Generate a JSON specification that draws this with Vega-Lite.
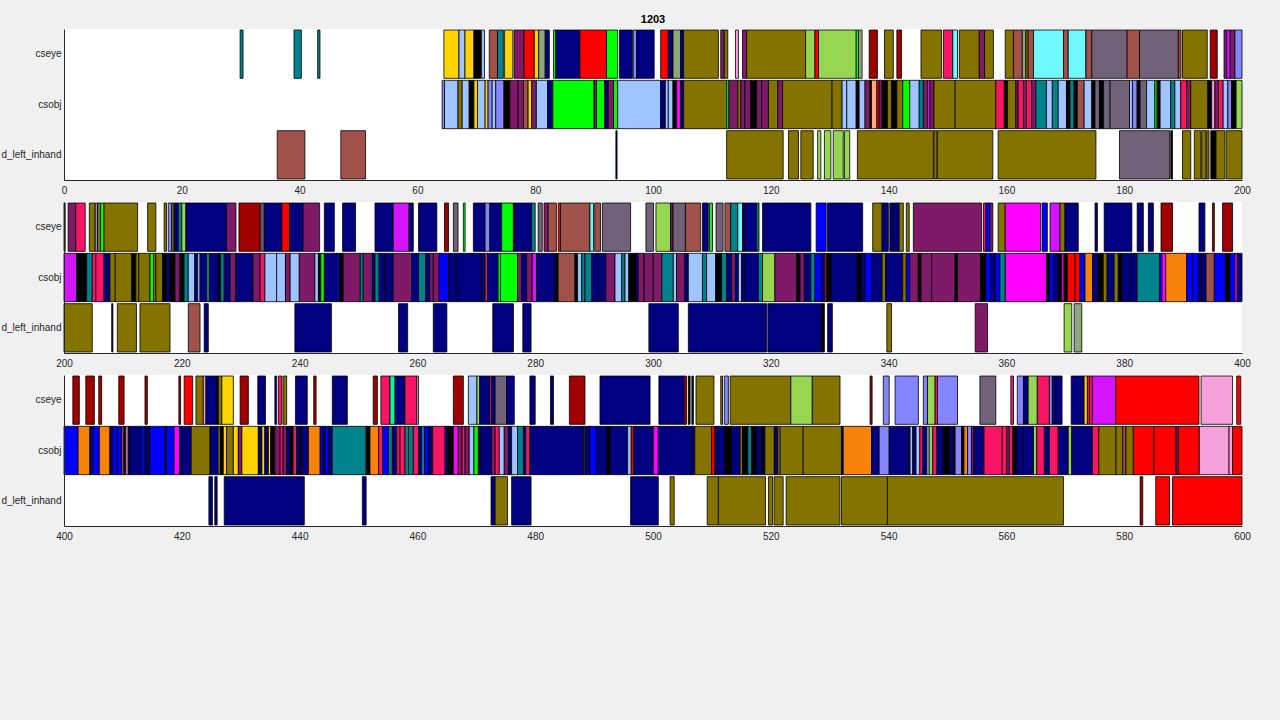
{
"$schema":"https://vega.github.io/schema/vega-lite/v6.json",
"background":"#f0f0f0",
"padding":{"left":0,"top":14,"right":35,"bottom":180},
"datasets":{"segs":[
{"r":"cseye","s":29.9,"e":30.4,"o":1},{"r":"cseye","s":39.05,"e":40.3,"o":1},{"r":"cseye","s":43.07,"e":43.46,"o":1},{"r":"cseye","s":64.5,"e":67.06,"o":2},{"r":"cseye","s":67.06,"e":68.08,"o":3},{"r":"cseye","s":68.08,"e":69.6,"o":2},{"r":"cseye","s":69.6,"e":70.8,"o":22},{"r":"cseye","s":70.9,"e":71.4,"o":3},{"r":"cseye","s":72.2,"e":73.6,"o":4},{"r":"cseye","s":73.6,"e":74.6,"o":1},{"r":"cseye","s":74.8,"e":76.2,"o":2},{"r":"cseye","s":76.4,"e":78.1,"o":9},{"r":"cseye","s":78.1,"e":79.85,"o":7},{"r":"cseye","s":79.85,"e":80.6,"o":2},{"r":"cseye","s":80.6,"e":81.7,"o":10},{"r":"cseye","s":81.7,"e":82.4,"o":6},{"r":"cseye","s":83.1,"e":83.5,"o":8},{"r":"cseye","s":83.5,"e":87.6,"o":6},{"r":"cseye","s":87.6,"e":92.1,"o":7},{"r":"cseye","s":92.1,"e":94.0,"o":8},{"r":"cseye","s":94.3,"e":96.5,"o":6},{"r":"cseye","s":96.65,"e":97.2,"o":18},{"r":"cseye","s":97.2,"e":100.2,"o":6},{"r":"cseye","s":101.3,"e":102.6,"o":7},{"r":"cseye","s":102.6,"e":103.4,"o":6},{"r":"cseye","s":103.4,"e":104.7,"o":10},{"r":"cseye","s":104.7,"e":105.2,"o":6},{"r":"cseye","s":105.2,"e":111.1,"o":5},{"r":"cseye","s":111.5,"e":112.1,"o":9},{"r":"cseye","s":112.1,"e":112.7,"o":5},{"r":"cseye","s":114.0,"e":114.5,"o":21},{"r":"cseye","s":115.2,"e":115.9,"o":9},{"r":"cseye","s":115.9,"e":125.9,"o":5},{"r":"cseye","s":125.9,"e":127.5,"o":15},{"r":"cseye","s":127.5,"e":128.1,"o":7},{"r":"cseye","s":128.1,"e":134.5,"o":15},{"r":"cseye","s":134.5,"e":134.9,"o":8},{"r":"cseye","s":134.9,"e":135.5,"o":10},{"r":"cseye","s":136.7,"e":138.1,"o":11},{"r":"cseye","s":139.3,"e":140.8,"o":5},{"r":"cseye","s":141.4,"e":142.2,"o":11},{"r":"cseye","s":145.5,"e":149.0,"o":5},{"r":"cseye","s":149.3,"e":150.9,"o":12},{"r":"cseye","s":150.9,"e":151.7,"o":13},{"r":"cseye","s":152.0,"e":155.4,"o":5},{"r":"cseye","s":155.4,"e":156.3,"o":9},{"r":"cseye","s":156.3,"e":157.8,"o":5},{"r":"cseye","s":159.8,"e":161.2,"o":5},{"r":"cseye","s":161.2,"e":162.7,"o":4},{"r":"cseye","s":162.7,"e":163.3,"o":10},{"r":"cseye","s":163.3,"e":163.7,"o":5},{"r":"cseye","s":163.7,"e":164.6,"o":4},{"r":"cseye","s":164.6,"e":169.7,"o":13},{"r":"cseye","s":169.7,"e":170.5,"o":4},{"r":"cseye","s":170.5,"e":173.5,"o":13},{"r":"cseye","s":173.5,"e":174.5,"o":4},{"r":"cseye","s":174.5,"e":180.5,"o":14},{"r":"cseye","s":180.5,"e":182.6,"o":4},{"r":"cseye","s":182.6,"e":189.2,"o":14},{"r":"cseye","s":189.2,"e":189.65,"o":4},{"r":"cseye","s":189.9,"e":194.1,"o":5},{"r":"cseye","s":194.6,"e":195.8,"o":11},{"r":"cseye","s":196.95,"e":197.4,"o":9},{"r":"cseye","s":197.4,"e":198.0,"o":17},{"r":"cseye","s":198.0,"e":198.8,"o":9},{"r":"cseye","s":198.8,"e":200,"o":18},
{"r":"csobj","s":64.2,"e":64.6,"o":18},{"r":"csobj","s":64.6,"e":66.9,"o":3},{"r":"csobj","s":66.9,"e":67.6,"o":5},{"r":"csobj","s":67.6,"e":68.8,"o":3},{"r":"csobj","s":68.8,"e":69.6,"o":22},{"r":"csobj","s":69.6,"e":70.2,"o":2},{"r":"csobj","s":70.2,"e":71.5,"o":3},{"r":"csobj","s":71.5,"e":72.0,"o":2},{"r":"csobj","s":72.0,"e":72.7,"o":18},{"r":"csobj","s":72.7,"e":73.3,"o":3},{"r":"csobj","s":73.3,"e":74.7,"o":18},{"r":"csobj","s":74.7,"e":75.7,"o":22},{"r":"csobj","s":75.7,"e":77.1,"o":9},{"r":"csobj","s":77.1,"e":78.0,"o":9},{"r":"csobj","s":78.0,"e":78.8,"o":4},{"r":"csobj","s":78.8,"e":79.4,"o":2},{"r":"csobj","s":79.4,"e":80.2,"o":9},{"r":"csobj","s":80.2,"e":82.1,"o":3},{"r":"csobj","s":82.1,"e":83.0,"o":6},{"r":"csobj","s":83.0,"e":90.0,"o":8},{"r":"csobj","s":90.0,"e":90.4,"o":9},{"r":"csobj","s":90.4,"e":91.8,"o":8},{"r":"csobj","s":91.8,"e":92.4,"o":6},{"r":"csobj","s":92.4,"e":93.3,"o":9},{"r":"csobj","s":93.3,"e":94.0,"o":8},{"r":"csobj","s":94.0,"e":101.3,"o":3},{"r":"csobj","s":101.3,"e":102.1,"o":6},{"r":"csobj","s":102.1,"e":102.6,"o":3},{"r":"csobj","s":102.6,"e":103.4,"o":3},{"r":"csobj","s":103.4,"e":104.0,"o":22},{"r":"csobj","s":104.0,"e":104.7,"o":16},{"r":"csobj","s":104.7,"e":105.2,"o":6},{"r":"csobj","s":105.2,"e":112.5,"o":5},{"r":"csobj","s":112.5,"e":112.9,"o":8},{"r":"csobj","s":112.9,"e":114.4,"o":9},{"r":"csobj","s":114.4,"e":114.9,"o":5},{"r":"csobj","s":114.9,"e":115.6,"o":9},{"r":"csobj","s":115.6,"e":116.6,"o":9},{"r":"csobj","s":116.6,"e":117.6,"o":22},{"r":"csobj","s":117.6,"e":118.45,"o":9},{"r":"csobj","s":118.45,"e":119.6,"o":9},{"r":"csobj","s":119.6,"e":121.2,"o":5},{"r":"csobj","s":121.2,"e":122.0,"o":9},{"r":"csobj","s":122.0,"e":130.4,"o":5},{"r":"csobj","s":130.4,"e":132.1,"o":5},{"r":"csobj","s":132.1,"e":132.9,"o":3},{"r":"csobj","s":132.9,"e":134.5,"o":3},{"r":"csobj","s":134.5,"e":135.0,"o":22},{"r":"csobj","s":135.0,"e":136.0,"o":3},{"r":"csobj","s":136.0,"e":136.85,"o":9},{"r":"csobj","s":136.85,"e":137.1,"o":22},{"r":"csobj","s":137.1,"e":138.0,"o":23},{"r":"csobj","s":138.0,"e":138.4,"o":7},{"r":"csobj","s":138.4,"e":138.9,"o":9},{"r":"csobj","s":138.9,"e":139.8,"o":22},{"r":"csobj","s":139.8,"e":140.5,"o":5},{"r":"csobj","s":140.5,"e":141.4,"o":22},{"r":"csobj","s":141.4,"e":142.4,"o":5},{"r":"csobj","s":142.4,"e":143.6,"o":8},{"r":"csobj","s":143.6,"e":145.2,"o":3},{"r":"csobj","s":145.2,"e":145.9,"o":1},{"r":"csobj","s":145.9,"e":146.6,"o":9},{"r":"csobj","s":146.6,"e":147.0,"o":17},{"r":"csobj","s":147.0,"e":147.7,"o":9},{"r":"csobj","s":147.7,"e":151.3,"o":5},{"r":"csobj","s":151.3,"e":158.2,"o":5},{"r":"csobj","s":158.2,"e":159.65,"o":12},{"r":"csobj","s":159.65,"e":160.2,"o":22},{"r":"csobj","s":160.2,"e":161.6,"o":5},{"r":"csobj","s":161.6,"e":162.0,"o":9},{"r":"csobj","s":162.0,"e":162.9,"o":12},{"r":"csobj","s":162.9,"e":163.4,"o":9},{"r":"csobj","s":163.4,"e":164.3,"o":12},{"r":"csobj","s":164.3,"e":165.0,"o":9},{"r":"csobj","s":165.0,"e":166.8,"o":1},{"r":"csobj","s":166.8,"e":167.8,"o":3},{"r":"csobj","s":167.8,"e":168.8,"o":1},{"r":"csobj","s":168.8,"e":170.2,"o":3},{"r":"csobj","s":170.2,"e":170.8,"o":22},{"r":"csobj","s":170.8,"e":171.5,"o":1},{"r":"csobj","s":171.5,"e":172.05,"o":22},{"r":"csobj","s":172.05,"e":173.2,"o":4},{"r":"csobj","s":173.2,"e":174.5,"o":3},{"r":"csobj","s":174.5,"e":175.05,"o":22},{"r":"csobj","s":175.05,"e":175.8,"o":14},{"r":"csobj","s":175.8,"e":176.5,"o":22},{"r":"csobj","s":176.5,"e":177.6,"o":14},{"r":"csobj","s":177.6,"e":180.9,"o":14},{"r":"csobj","s":180.9,"e":181.4,"o":3},{"r":"csobj","s":181.4,"e":182.2,"o":18},{"r":"csobj","s":182.2,"e":182.7,"o":22},{"r":"csobj","s":182.7,"e":183.8,"o":14},{"r":"csobj","s":183.8,"e":185.2,"o":3},{"r":"csobj","s":185.2,"e":185.6,"o":8},{"r":"csobj","s":185.6,"e":186.1,"o":22},{"r":"csobj","s":186.1,"e":187.9,"o":3},{"r":"csobj","s":187.9,"e":188.6,"o":1},{"r":"csobj","s":188.6,"e":189.6,"o":3},{"r":"csobj","s":189.6,"e":190.6,"o":12},{"r":"csobj","s":190.6,"e":191.3,"o":9},{"r":"csobj","s":191.3,"e":194.2,"o":5},{"r":"csobj","s":194.2,"e":194.85,"o":22},{"r":"csobj","s":194.85,"e":195.4,"o":21},{"r":"csobj","s":195.4,"e":196.0,"o":9},{"r":"csobj","s":196.0,"e":196.8,"o":12},{"r":"csobj","s":196.8,"e":197.6,"o":3},{"r":"csobj","s":197.6,"e":198.25,"o":18},{"r":"csobj","s":198.25,"e":199.0,"o":22},{"r":"csobj","s":199.0,"e":200,"o":15},
{"r":"d_left_inhand","s":36.2,"e":40.9,"o":4},{"r":"d_left_inhand","s":47.0,"e":51.2,"o":4},{"r":"d_left_inhand","s":93.7,"e":93.9,"o":6},{"r":"d_left_inhand","s":112.5,"e":122.1,"o":5},{"r":"d_left_inhand","s":123.0,"e":124.7,"o":5},{"r":"d_left_inhand","s":125.1,"e":127.2,"o":5},{"r":"d_left_inhand","s":127.95,"e":128.5,"o":15},{"r":"d_left_inhand","s":129.1,"e":130.2,"o":15},{"r":"d_left_inhand","s":130.6,"e":132.3,"o":15},{"r":"d_left_inhand","s":132.5,"e":133.4,"o":15},{"r":"d_left_inhand","s":134.7,"e":147.6,"o":5},{"r":"d_left_inhand","s":147.7,"e":148.2,"o":5},{"r":"d_left_inhand","s":148.3,"e":157.7,"o":5},{"r":"d_left_inhand","s":158.6,"e":175.2,"o":5},{"r":"d_left_inhand","s":179.2,"e":187.7,"o":14},{"r":"d_left_inhand","s":187.9,"e":188.2,"o":22},{"r":"d_left_inhand","s":189.9,"e":191.3,"o":5},{"r":"d_left_inhand","s":191.9,"e":193.0,"o":5},{"r":"d_left_inhand","s":193.15,"e":193.9,"o":5},{"r":"d_left_inhand","s":194.0,"e":194.4,"o":5},{"r":"d_left_inhand","s":194.7,"e":195.6,"o":22},{"r":"d_left_inhand","s":195.6,"e":197.1,"o":5},{"r":"d_left_inhand","s":197.3,"e":200,"o":5},
{"r":"cseye","s":200,"e":200.2,"o":22},{"r":"cseye","s":200.7,"e":202.0,"o":9},{"r":"cseye","s":202.0,"e":203.6,"o":12},{"r":"cseye","s":204.3,"e":205.3,"o":5},{"r":"cseye","s":205.3,"e":205.7,"o":18},{"r":"cseye","s":205.7,"e":206.2,"o":5},{"r":"cseye","s":206.2,"e":206.8,"o":8},{"r":"cseye","s":206.8,"e":212.5,"o":5},{"r":"cseye","s":214.2,"e":215.6,"o":5},{"r":"cseye","s":217.0,"e":217.4,"o":5},{"r":"cseye","s":217.7,"e":218.3,"o":18},{"r":"cseye","s":218.3,"e":218.7,"o":5},{"r":"cseye","s":218.7,"e":219.4,"o":6},{"r":"cseye","s":219.4,"e":220.0,"o":1},{"r":"cseye","s":220.0,"e":220.7,"o":15},{"r":"cseye","s":220.7,"e":227.6,"o":6},{"r":"cseye","s":227.6,"e":229.2,"o":9},{"r":"cseye","s":229.7,"e":233.3,"o":11},{"r":"cseye","s":233.4,"e":234.0,"o":14},{"r":"cseye","s":234.0,"e":237.0,"o":6},{"r":"cseye","s":237.0,"e":238.3,"o":7},{"r":"cseye","s":238.3,"e":240.6,"o":6},{"r":"cseye","s":240.6,"e":243.4,"o":9},{"r":"cseye","s":244.2,"e":245.9,"o":6},{"r":"cseye","s":247.3,"e":249.5,"o":6},{"r":"cseye","s":252.8,"e":255.9,"o":6},{"r":"cseye","s":255.9,"e":258.6,"o":17},{"r":"cseye","s":258.6,"e":259.3,"o":6},{"r":"cseye","s":260.2,"e":263.3,"o":6},{"r":"cseye","s":264.6,"e":265.3,"o":11},{"r":"cseye","s":266.1,"e":266.9,"o":14},{"r":"cseye","s":267.8,"e":268.1,"o":8},{"r":"cseye","s":269.5,"e":271.5,"o":6},{"r":"cseye","s":271.5,"e":272.3,"o":18},{"r":"cseye","s":272.3,"e":274.3,"o":6},{"r":"cseye","s":274.3,"e":276.3,"o":8},{"r":"cseye","s":276.3,"e":276.6,"o":6},{"r":"cseye","s":276.6,"e":279.4,"o":6},{"r":"cseye","s":279.4,"e":280.0,"o":1},{"r":"cseye","s":280.5,"e":281.2,"o":14},{"r":"cseye","s":281.5,"e":282.2,"o":9},{"r":"cseye","s":282.2,"e":283.6,"o":4},{"r":"cseye","s":283.9,"e":284.3,"o":7},{"r":"cseye","s":284.3,"e":289.3,"o":4},{"r":"cseye","s":289.3,"e":289.9,"o":13},{"r":"cseye","s":290.1,"e":291.1,"o":4},{"r":"cseye","s":291.4,"e":296.2,"o":14},{"r":"cseye","s":298.8,"e":300.1,"o":14},{"r":"cseye","s":300.5,"e":303.0,"o":15},{"r":"cseye","s":303.0,"e":303.4,"o":9},{"r":"cseye","s":303.4,"e":305.5,"o":14},{"r":"cseye","s":305.5,"e":308.1,"o":4},{"r":"cseye","s":308.4,"e":309.4,"o":6},{"r":"cseye","s":309.6,"e":310.1,"o":8},{"r":"cseye","s":310.7,"e":311.9,"o":14},{"r":"cseye","s":312.2,"e":313.2,"o":4},{"r":"cseye","s":313.2,"e":314.4,"o":1},{"r":"cseye","s":314.4,"e":315.2,"o":13},{"r":"cseye","s":315.2,"e":315.5,"o":6},{"r":"cseye","s":315.5,"e":317.6,"o":6},{"r":"cseye","s":317.6,"e":318.0,"o":1},{"r":"cseye","s":318.6,"e":326.8,"o":6},{"r":"cseye","s":327.7,"e":329.4,"o":19},{"r":"cseye","s":329.6,"e":335.6,"o":6},{"r":"cseye","s":337.3,"e":338.9,"o":5},{"r":"cseye","s":338.9,"e":339.96,"o":6},{"r":"cseye","s":340.2,"e":340.8,"o":6},{"r":"cseye","s":340.8,"e":341.8,"o":6},{"r":"cseye","s":341.8,"e":342.5,"o":5},{"r":"cseye","s":343.0,"e":343.5,"o":5},{"r":"cseye","s":344.2,"e":355.8,"o":9},{"r":"cseye","s":356.1,"e":356.5,"o":12},{"r":"cseye","s":356.5,"e":357.2,"o":19},{"r":"cseye","s":357.2,"e":357.7,"o":9},{"r":"cseye","s":358.6,"e":359.8,"o":5},{"r":"cseye","s":359.8,"e":365.8,"o":16},{"r":"cseye","s":366.05,"e":366.95,"o":19},{"r":"cseye","s":367.4,"e":369.1,"o":17},{"r":"cseye","s":369.1,"e":369.95,"o":5},{"r":"cseye","s":369.95,"e":372.2,"o":6},{"r":"cseye","s":375.05,"e":375.45,"o":6},{"r":"cseye","s":376.6,"e":381.3,"o":6},{"r":"cseye","s":382.2,"e":383.25,"o":6},{"r":"cseye","s":384.1,"e":384.95,"o":6},{"r":"cseye","s":386.25,"e":388.2,"o":11},{"r":"cseye","s":392.7,"e":393.7,"o":6},{"r":"cseye","s":395.0,"e":395.3,"o":11},{"r":"cseye","s":396.7,"e":398.4,"o":11},
{"r":"csobj","s":200,"e":202.15,"o":17},{"r":"csobj","s":202.15,"e":202.6,"o":22},{"r":"csobj","s":202.6,"e":203.2,"o":22},{"r":"csobj","s":203.2,"e":203.85,"o":22},{"r":"csobj","s":203.85,"e":204.8,"o":1},{"r":"csobj","s":204.8,"e":205.4,"o":12},{"r":"csobj","s":205.4,"e":206.8,"o":12},{"r":"csobj","s":206.8,"e":207.8,"o":6},{"r":"csobj","s":207.8,"e":208.7,"o":5},{"r":"csobj","s":208.7,"e":211.5,"o":5},{"r":"csobj","s":211.5,"e":212.2,"o":22},{"r":"csobj","s":212.2,"e":212.7,"o":5},{"r":"csobj","s":212.7,"e":214.6,"o":5},{"r":"csobj","s":214.6,"e":215.2,"o":8},{"r":"csobj","s":215.2,"e":215.6,"o":5},{"r":"csobj","s":215.6,"e":216.75,"o":5},{"r":"csobj","s":216.75,"e":217.4,"o":22},{"r":"csobj","s":217.4,"e":218.0,"o":6},{"r":"csobj","s":218.0,"e":218.85,"o":22},{"r":"csobj","s":218.85,"e":219.7,"o":9},{"r":"csobj","s":219.7,"e":220.4,"o":22},{"r":"csobj","s":220.4,"e":221.1,"o":1},{"r":"csobj","s":221.1,"e":222.2,"o":3},{"r":"csobj","s":222.2,"e":222.7,"o":6},{"r":"csobj","s":222.7,"e":223.1,"o":3},{"r":"csobj","s":223.1,"e":224.2,"o":6},{"r":"csobj","s":224.2,"e":224.7,"o":1},{"r":"csobj","s":224.7,"e":226.2,"o":6},{"r":"csobj","s":226.2,"e":226.6,"o":22},{"r":"csobj","s":226.6,"e":227.2,"o":1},{"r":"csobj","s":227.2,"e":228.2,"o":6},{"r":"csobj","s":228.2,"e":229.15,"o":9},{"r":"csobj","s":229.15,"e":232.1,"o":6},{"r":"csobj","s":232.1,"e":233.3,"o":9},{"r":"csobj","s":233.3,"e":234.1,"o":12},{"r":"csobj","s":234.1,"e":236.1,"o":3},{"r":"csobj","s":236.1,"e":237.6,"o":3},{"r":"csobj","s":237.6,"e":238.4,"o":9},{"r":"csobj","s":238.4,"e":239.95,"o":3},{"r":"csobj","s":239.95,"e":242.6,"o":9},{"r":"csobj","s":242.6,"e":243.2,"o":3},{"r":"csobj","s":243.2,"e":243.6,"o":22},{"r":"csobj","s":243.6,"e":244.2,"o":8},{"r":"csobj","s":244.2,"e":246.3,"o":6},{"r":"csobj","s":246.3,"e":246.75,"o":19},{"r":"csobj","s":246.75,"e":247.4,"o":22},{"r":"csobj","s":247.4,"e":250.3,"o":9},{"r":"csobj","s":250.3,"e":250.8,"o":1},{"r":"csobj","s":250.8,"e":252.35,"o":9},{"r":"csobj","s":252.35,"e":252.8,"o":6},{"r":"csobj","s":252.8,"e":253.5,"o":1},{"r":"csobj","s":253.5,"e":254.5,"o":6},{"r":"csobj","s":254.5,"e":255.9,"o":6},{"r":"csobj","s":255.9,"e":259.0,"o":9},{"r":"csobj","s":259.0,"e":260.2,"o":6},{"r":"csobj","s":260.2,"e":261.4,"o":1},{"r":"csobj","s":261.4,"e":262.1,"o":6},{"r":"csobj","s":262.1,"e":262.7,"o":9},{"r":"csobj","s":262.7,"e":263.7,"o":9},{"r":"csobj","s":263.7,"e":265.3,"o":19},{"r":"csobj","s":265.3,"e":266.8,"o":6},{"r":"csobj","s":266.8,"e":270.9,"o":6},{"r":"csobj","s":270.9,"e":271.5,"o":6},{"r":"csobj","s":271.5,"e":271.9,"o":12},{"r":"csobj","s":271.9,"e":273.7,"o":6},{"r":"csobj","s":273.7,"e":274.1,"o":8},{"r":"csobj","s":274.1,"e":277.0,"o":8},{"r":"csobj","s":277.0,"e":277.7,"o":9},{"r":"csobj","s":277.7,"e":278.55,"o":6},{"r":"csobj","s":278.55,"e":279.5,"o":9},{"r":"csobj","s":279.5,"e":280.25,"o":17},{"r":"csobj","s":280.25,"e":283.4,"o":6},{"r":"csobj","s":283.4,"e":283.9,"o":22},{"r":"csobj","s":283.9,"e":286.75,"o":4},{"r":"csobj","s":286.75,"e":287.2,"o":22},{"r":"csobj","s":287.2,"e":287.9,"o":3},{"r":"csobj","s":287.9,"e":288.45,"o":1},{"r":"csobj","s":288.45,"e":289.6,"o":1},{"r":"csobj","s":289.6,"e":290.7,"o":6},{"r":"csobj","s":290.7,"e":292.0,"o":6},{"r":"csobj","s":292.0,"e":293.55,"o":9},{"r":"csobj","s":293.55,"e":294.7,"o":3},{"r":"csobj","s":294.7,"e":295.25,"o":1},{"r":"csobj","s":295.25,"e":295.9,"o":3},{"r":"csobj","s":295.9,"e":297.2,"o":22},{"r":"csobj","s":297.2,"e":297.5,"o":19},{"r":"csobj","s":297.5,"e":298.5,"o":9},{"r":"csobj","s":298.5,"e":300.05,"o":9},{"r":"csobj","s":300.05,"e":301.5,"o":9},{"r":"csobj","s":301.5,"e":303.45,"o":1},{"r":"csobj","s":303.45,"e":304.0,"o":3},{"r":"csobj","s":304.0,"e":305.4,"o":9},{"r":"csobj","s":305.4,"e":306.0,"o":6},{"r":"csobj","s":306.0,"e":308.4,"o":3},{"r":"csobj","s":308.4,"e":309.1,"o":1},{"r":"csobj","s":309.1,"e":310.65,"o":3},{"r":"csobj","s":310.65,"e":311.65,"o":22},{"r":"csobj","s":311.65,"e":312.5,"o":1},{"r":"csobj","s":312.5,"e":313.35,"o":6},{"r":"csobj","s":313.35,"e":314.0,"o":9},{"r":"csobj","s":314.0,"e":314.5,"o":6},{"r":"csobj","s":314.5,"e":315.05,"o":3},{"r":"csobj","s":315.05,"e":315.6,"o":6},{"r":"csobj","s":315.6,"e":317.9,"o":6},{"r":"csobj","s":317.9,"e":318.6,"o":1},{"r":"csobj","s":318.6,"e":320.7,"o":15},{"r":"csobj","s":320.7,"e":324.4,"o":9},{"r":"csobj","s":324.4,"e":324.95,"o":22},{"r":"csobj","s":324.95,"e":325.7,"o":9},{"r":"csobj","s":325.7,"e":326.8,"o":6},{"r":"csobj","s":326.8,"e":327.5,"o":1},{"r":"csobj","s":327.5,"e":328.6,"o":19},{"r":"csobj","s":328.6,"e":329.1,"o":6},{"r":"csobj","s":329.1,"e":329.5,"o":9},{"r":"csobj","s":329.5,"e":330.3,"o":22},{"r":"csobj","s":330.3,"e":334.7,"o":6},{"r":"csobj","s":334.7,"e":335.4,"o":22},{"r":"csobj","s":335.4,"e":336.0,"o":6},{"r":"csobj","s":336.0,"e":337.2,"o":19},{"r":"csobj","s":337.2,"e":338.9,"o":6},{"r":"csobj","s":338.9,"e":339.5,"o":5},{"r":"csobj","s":339.5,"e":342.4,"o":6},{"r":"csobj","s":342.4,"e":343.0,"o":5},{"r":"csobj","s":343.0,"e":343.6,"o":19},{"r":"csobj","s":343.6,"e":345.05,"o":9},{"r":"csobj","s":345.05,"e":345.5,"o":22},{"r":"csobj","s":345.5,"e":347.3,"o":9},{"r":"csobj","s":347.3,"e":351.3,"o":9},{"r":"csobj","s":351.3,"e":351.7,"o":22},{"r":"csobj","s":351.7,"e":355.6,"o":9},{"r":"csobj","s":355.6,"e":356.5,"o":22},{"r":"csobj","s":356.5,"e":357.3,"o":19},{"r":"csobj","s":357.3,"e":358.1,"o":6},{"r":"csobj","s":358.1,"e":358.9,"o":19},{"r":"csobj","s":358.9,"e":359.8,"o":1},{"r":"csobj","s":359.8,"e":366.8,"o":16},{"r":"csobj","s":366.8,"e":367.3,"o":22},{"r":"csobj","s":367.3,"e":368.0,"o":19},{"r":"csobj","s":368.0,"e":368.8,"o":6},{"r":"csobj","s":368.8,"e":369.4,"o":22},{"r":"csobj","s":369.4,"e":369.8,"o":16},{"r":"csobj","s":369.8,"e":370.35,"o":22},{"r":"csobj","s":370.35,"e":371.65,"o":7},{"r":"csobj","s":371.65,"e":372.5,"o":7},{"r":"csobj","s":372.5,"e":373.35,"o":19},{"r":"csobj","s":373.35,"e":374.65,"o":20},{"r":"csobj","s":374.65,"e":375.6,"o":6},{"r":"csobj","s":375.6,"e":376.45,"o":22},{"r":"csobj","s":376.45,"e":377.1,"o":5},{"r":"csobj","s":377.1,"e":378.3,"o":6},{"r":"csobj","s":378.3,"e":379.0,"o":5},{"r":"csobj","s":379.0,"e":379.6,"o":22},{"r":"csobj","s":379.6,"e":381.0,"o":6},{"r":"csobj","s":381.0,"e":382.2,"o":6},{"r":"csobj","s":382.2,"e":386.0,"o":1},{"r":"csobj","s":386.0,"e":386.4,"o":19},{"r":"csobj","s":386.4,"e":387.05,"o":16},{"r":"csobj","s":387.05,"e":390.6,"o":20},{"r":"csobj","s":390.6,"e":391.6,"o":19},{"r":"csobj","s":391.6,"e":392.6,"o":19},{"r":"csobj","s":392.6,"e":393.15,"o":6},{"r":"csobj","s":393.15,"e":393.9,"o":6},{"r":"csobj","s":393.9,"e":395.3,"o":4},{"r":"csobj","s":395.3,"e":397.2,"o":19},{"r":"csobj","s":397.2,"e":397.95,"o":22},{"r":"csobj","s":397.95,"e":398.8,"o":19},{"r":"csobj","s":398.8,"e":399.2,"o":16},{"r":"csobj","s":399.2,"e":400,"o":6},
{"r":"d_left_inhand","s":200,"e":204.8,"o":5},{"r":"d_left_inhand","s":208.1,"e":208.3,"o":22},{"r":"d_left_inhand","s":209.05,"e":212.3,"o":5},{"r":"d_left_inhand","s":212.9,"e":218.0,"o":5},{"r":"d_left_inhand","s":221.1,"e":223.1,"o":4},{"r":"d_left_inhand","s":223.8,"e":224.5,"o":6},{"r":"d_left_inhand","s":239.2,"e":245.4,"o":6},{"r":"d_left_inhand","s":256.8,"e":258.35,"o":6},{"r":"d_left_inhand","s":262.7,"e":265.0,"o":6},{"r":"d_left_inhand","s":272.8,"e":276.3,"o":6},{"r":"d_left_inhand","s":277.9,"e":279.3,"o":6},{"r":"d_left_inhand","s":299.3,"e":304.3,"o":6},{"r":"d_left_inhand","s":306.0,"e":319.3,"o":6},{"r":"d_left_inhand","s":319.5,"e":328.6,"o":6},{"r":"d_left_inhand","s":328.6,"e":329.1,"o":22},{"r":"d_left_inhand","s":329.65,"e":330.45,"o":6},{"r":"d_left_inhand","s":339.7,"e":340.5,"o":5},{"r":"d_left_inhand","s":354.7,"e":356.8,"o":9},{"r":"d_left_inhand","s":369.8,"e":371.1,"o":15},{"r":"d_left_inhand","s":371.5,"e":372.8,"o":10},
{"r":"cseye","s":401.5,"e":402.6,"o":11},{"r":"cseye","s":403.7,"e":405.15,"o":11},{"r":"cseye","s":405.9,"e":406.4,"o":11},{"r":"cseye","s":409.3,"e":410.2,"o":11},{"r":"cseye","s":413.75,"e":414.15,"o":11},{"r":"cseye","s":419.5,"e":419.8,"o":11},{"r":"cseye","s":420.4,"e":421.85,"o":7},{"r":"cseye","s":422.4,"e":423.65,"o":5},{"r":"cseye","s":423.65,"e":424.1,"o":21},{"r":"cseye","s":424.1,"e":425.9,"o":6},{"r":"cseye","s":425.9,"e":426.2,"o":22},{"r":"cseye","s":426.2,"e":426.8,"o":5},{"r":"cseye","s":426.8,"e":428.75,"o":2},{"r":"cseye","s":429.9,"e":431.3,"o":11},{"r":"cseye","s":432.9,"e":434.2,"o":6},{"r":"cseye","s":435.8,"e":436.1,"o":6},{"r":"cseye","s":436.4,"e":437.0,"o":12},{"r":"cseye","s":437.2,"e":437.8,"o":5},{"r":"cseye","s":439.3,"e":441.3,"o":6},{"r":"cseye","s":442.4,"e":442.8,"o":11},{"r":"cseye","s":445.55,"e":448.1,"o":6},{"r":"cseye","s":452.5,"e":453.2,"o":11},{"r":"cseye","s":453.8,"e":455.35,"o":12},{"r":"cseye","s":455.35,"e":456.2,"o":24},{"r":"cseye","s":456.2,"e":457.9,"o":6},{"r":"cseye","s":457.9,"e":459.9,"o":12},{"r":"cseye","s":459.9,"e":460.2,"o":21},{"r":"cseye","s":466.1,"e":467.8,"o":11},{"r":"cseye","s":468.65,"e":470.1,"o":3},{"r":"cseye","s":470.1,"e":470.6,"o":15},{"r":"cseye","s":470.6,"e":472.3,"o":6},{"r":"cseye","s":472.3,"e":472.6,"o":12},{"r":"cseye","s":472.6,"e":473.2,"o":6},{"r":"cseye","s":473.2,"e":475.15,"o":14},{"r":"cseye","s":475.15,"e":476.45,"o":6},{"r":"cseye","s":479.1,"e":480.0,"o":6},{"r":"cseye","s":482.6,"e":483.1,"o":6},{"r":"cseye","s":485.8,"e":488.45,"o":11},{"r":"cseye","s":491.0,"e":499.5,"o":6},{"r":"cseye","s":501.0,"e":505.3,"o":6},{"r":"cseye","s":505.3,"e":505.7,"o":11},{"r":"cseye","s":506.0,"e":506.3,"o":22},{"r":"cseye","s":506.6,"e":506.85,"o":22},{"r":"cseye","s":507.3,"e":510.35,"o":5},{"r":"cseye","s":511.5,"e":511.8,"o":5},{"r":"cseye","s":512.1,"e":512.8,"o":18},{"r":"cseye","s":513.1,"e":523.4,"o":5},{"r":"cseye","s":523.4,"e":527.05,"o":15},{"r":"cseye","s":527.05,"e":531.75,"o":5},{"r":"cseye","s":536.85,"e":537.2,"o":11},{"r":"cseye","s":539.1,"e":540.1,"o":18},{"r":"cseye","s":541.1,"e":545.05,"o":18},{"r":"cseye","s":545.9,"e":546.6,"o":18},{"r":"cseye","s":546.6,"e":547.9,"o":15},{"r":"cseye","s":547.9,"e":548.3,"o":12},{"r":"cseye","s":548.3,"e":551.7,"o":18},{"r":"cseye","s":555.5,"e":558.2,"o":14},{"r":"cseye","s":560.75,"e":561.2,"o":12},{"r":"cseye","s":561.85,"e":562.9,"o":18},{"r":"cseye","s":562.9,"e":563.7,"o":6},{"r":"cseye","s":563.7,"e":565.25,"o":15},{"r":"cseye","s":565.25,"e":567.3,"o":12},{"r":"cseye","s":567.3,"e":567.8,"o":18},{"r":"cseye","s":567.8,"e":568.4,"o":6},{"r":"cseye","s":568.4,"e":569.45,"o":6},{"r":"cseye","s":571.0,"e":573.2,"o":6},{"r":"cseye","s":573.2,"e":573.75,"o":2},{"r":"cseye","s":573.75,"e":574.1,"o":12},{"r":"cseye","s":574.1,"e":574.6,"o":12},{"r":"cseye","s":574.6,"e":578.55,"o":17},{"r":"cseye","s":578.55,"e":592.7,"o":7},{"r":"cseye","s":593.05,"e":598.4,"o":21},{"r":"cseye","s":599.1,"e":599.8,"o":7},
{"r":"csobj","s":400,"e":402.4,"o":19},{"r":"csobj","s":402.4,"e":404.4,"o":20},{"r":"csobj","s":404.4,"e":404.9,"o":6},{"r":"csobj","s":404.9,"e":406.0,"o":19},{"r":"csobj","s":406.0,"e":407.8,"o":20},{"r":"csobj","s":407.8,"e":408.3,"o":6},{"r":"csobj","s":408.3,"e":409.05,"o":19},{"r":"csobj","s":409.05,"e":409.8,"o":19},{"r":"csobj","s":409.8,"e":410.2,"o":4},{"r":"csobj","s":410.2,"e":410.5,"o":22},{"r":"csobj","s":410.5,"e":410.9,"o":21},{"r":"csobj","s":410.9,"e":411.2,"o":6},{"r":"csobj","s":411.2,"e":413.2,"o":6},{"r":"csobj","s":413.2,"e":413.75,"o":19},{"r":"csobj","s":413.75,"e":414.3,"o":6},{"r":"csobj","s":414.3,"e":414.6,"o":6},{"r":"csobj","s":414.6,"e":417.15,"o":19},{"r":"csobj","s":417.15,"e":417.4,"o":6},{"r":"csobj","s":417.4,"e":418.7,"o":19},{"r":"csobj","s":418.7,"e":419.6,"o":16},{"r":"csobj","s":419.6,"e":420.0,"o":6},{"r":"csobj","s":420.0,"e":421.6,"o":6},{"r":"csobj","s":421.6,"e":424.8,"o":5},{"r":"csobj","s":424.8,"e":426.2,"o":6},{"r":"csobj","s":426.2,"e":426.5,"o":2},{"r":"csobj","s":426.5,"e":427.05,"o":22},{"r":"csobj","s":427.05,"e":427.6,"o":2},{"r":"csobj","s":427.6,"e":428.75,"o":5},{"r":"csobj","s":428.75,"e":429.6,"o":2},{"r":"csobj","s":429.6,"e":430.2,"o":9},{"r":"csobj","s":430.2,"e":433.0,"o":2},{"r":"csobj","s":433.0,"e":433.6,"o":6},{"r":"csobj","s":433.6,"e":434.1,"o":2},{"r":"csobj","s":434.1,"e":434.7,"o":6},{"r":"csobj","s":434.7,"e":435.1,"o":2},{"r":"csobj","s":435.1,"e":435.8,"o":22},{"r":"csobj","s":435.8,"e":436.7,"o":9},{"r":"csobj","s":436.7,"e":437.2,"o":12},{"r":"csobj","s":437.2,"e":437.8,"o":9},{"r":"csobj","s":437.8,"e":438.4,"o":6},{"r":"csobj","s":438.4,"e":438.9,"o":22},{"r":"csobj","s":438.9,"e":439.5,"o":12},{"r":"csobj","s":439.5,"e":440.1,"o":6},{"r":"csobj","s":440.1,"e":440.35,"o":22},{"r":"csobj","s":440.35,"e":441.5,"o":6},{"r":"csobj","s":441.5,"e":443.5,"o":20},{"r":"csobj","s":443.5,"e":444.0,"o":19},{"r":"csobj","s":444.0,"e":444.4,"o":6},{"r":"csobj","s":444.4,"e":444.9,"o":19},{"r":"csobj","s":444.9,"e":445.55,"o":6},{"r":"csobj","s":445.55,"e":451.3,"o":1},{"r":"csobj","s":451.3,"e":451.95,"o":22},{"r":"csobj","s":451.95,"e":453.4,"o":20},{"r":"csobj","s":453.4,"e":454.1,"o":12},{"r":"csobj","s":454.1,"e":455.1,"o":19},{"r":"csobj","s":455.1,"e":455.75,"o":1},{"r":"csobj","s":455.75,"e":456.5,"o":6},{"r":"csobj","s":456.5,"e":457.05,"o":12},{"r":"csobj","s":457.05,"e":457.9,"o":12},{"r":"csobj","s":457.9,"e":458.5,"o":1},{"r":"csobj","s":458.5,"e":459.3,"o":1},{"r":"csobj","s":459.3,"e":460.2,"o":12},{"r":"csobj","s":460.2,"e":460.7,"o":6},{"r":"csobj","s":460.7,"e":461.2,"o":1},{"r":"csobj","s":461.2,"e":461.9,"o":19},{"r":"csobj","s":461.9,"e":462.6,"o":6},{"r":"csobj","s":462.6,"e":464.7,"o":12},{"r":"csobj","s":464.7,"e":465.25,"o":6},{"r":"csobj","s":465.25,"e":466.1,"o":22},{"r":"csobj","s":466.1,"e":466.95,"o":16},{"r":"csobj","s":466.95,"e":467.6,"o":9},{"r":"csobj","s":467.6,"e":468.1,"o":12},{"r":"csobj","s":468.1,"e":468.8,"o":9},{"r":"csobj","s":468.8,"e":469.6,"o":3},{"r":"csobj","s":469.6,"e":470.35,"o":8},{"r":"csobj","s":470.35,"e":470.9,"o":6},{"r":"csobj","s":470.9,"e":472.6,"o":6},{"r":"csobj","s":472.6,"e":473.2,"o":9},{"r":"csobj","s":473.2,"e":473.9,"o":12},{"r":"csobj","s":473.9,"e":474.75,"o":3},{"r":"csobj","s":474.75,"e":475.45,"o":9},{"r":"csobj","s":475.45,"e":476.0,"o":6},{"r":"csobj","s":476.0,"e":477.0,"o":3},{"r":"csobj","s":477.0,"e":478.0,"o":1},{"r":"csobj","s":478.0,"e":478.4,"o":6},{"r":"csobj","s":478.4,"e":479.1,"o":12},{"r":"csobj","s":479.1,"e":488.2,"o":6},{"r":"csobj","s":488.2,"e":488.45,"o":5},{"r":"csobj","s":488.45,"e":489.3,"o":6},{"r":"csobj","s":489.3,"e":490.4,"o":19},{"r":"csobj","s":490.4,"e":492.1,"o":6},{"r":"csobj","s":492.1,"e":492.7,"o":22},{"r":"csobj","s":492.7,"e":495.7,"o":6},{"r":"csobj","s":495.7,"e":496.3,"o":3},{"r":"csobj","s":496.3,"e":496.7,"o":7},{"r":"csobj","s":496.7,"e":500.05,"o":6},{"r":"csobj","s":500.05,"e":500.9,"o":16},{"r":"csobj","s":500.9,"e":506.6,"o":6},{"r":"csobj","s":506.6,"e":507.1,"o":6},{"r":"csobj","s":507.1,"e":509.95,"o":5},{"r":"csobj","s":509.95,"e":510.5,"o":7},{"r":"csobj","s":510.5,"e":511.1,"o":6},{"r":"csobj","s":511.1,"e":512.2,"o":6},{"r":"csobj","s":512.2,"e":513.35,"o":22},{"r":"csobj","s":513.35,"e":514.8,"o":6},{"r":"csobj","s":514.8,"e":515.2,"o":5},{"r":"csobj","s":515.2,"e":516.1,"o":22},{"r":"csobj","s":516.1,"e":516.75,"o":1},{"r":"csobj","s":516.75,"e":517.6,"o":22},{"r":"csobj","s":517.6,"e":518.45,"o":6},{"r":"csobj","s":518.45,"e":519.0,"o":22},{"r":"csobj","s":519.0,"e":520.6,"o":5},{"r":"csobj","s":520.6,"e":521.2,"o":6},{"r":"csobj","s":521.2,"e":521.6,"o":5},{"r":"csobj","s":521.6,"e":525.5,"o":5},{"r":"csobj","s":525.5,"e":532.0,"o":5},{"r":"csobj","s":532.0,"e":532.3,"o":6},{"r":"csobj","s":532.3,"e":537.1,"o":20},{"r":"csobj","s":537.1,"e":538.4,"o":6},{"r":"csobj","s":538.4,"e":540.1,"o":18},{"r":"csobj","s":540.1,"e":543.35,"o":6},{"r":"csobj","s":543.35,"e":543.65,"o":6},{"r":"csobj","s":543.65,"e":544.1,"o":3},{"r":"csobj","s":544.1,"e":544.65,"o":6},{"r":"csobj","s":544.65,"e":545.3,"o":3},{"r":"csobj","s":545.3,"e":545.8,"o":12},{"r":"csobj","s":545.8,"e":546.5,"o":6},{"r":"csobj","s":546.5,"e":546.9,"o":3},{"r":"csobj","s":546.9,"e":547.5,"o":15},{"r":"csobj","s":547.5,"e":548.2,"o":12},{"r":"csobj","s":548.2,"e":549.3,"o":6},{"r":"csobj","s":549.3,"e":550.3,"o":22},{"r":"csobj","s":550.3,"e":551.0,"o":6},{"r":"csobj","s":551.0,"e":551.3,"o":22},{"r":"csobj","s":551.3,"e":552.4,"o":18},{"r":"csobj","s":552.4,"e":552.8,"o":22},{"r":"csobj","s":552.8,"e":553.4,"o":20},{"r":"csobj","s":553.4,"e":554.1,"o":18},{"r":"csobj","s":554.1,"e":554.5,"o":9},{"r":"csobj","s":554.5,"e":556.2,"o":6},{"r":"csobj","s":556.2,"e":559.3,"o":12},{"r":"csobj","s":559.3,"e":560.05,"o":12},{"r":"csobj","s":560.05,"e":560.5,"o":9},{"r":"csobj","s":560.5,"e":561.1,"o":12},{"r":"csobj","s":561.1,"e":561.75,"o":22},{"r":"csobj","s":561.75,"e":562.8,"o":6},{"r":"csobj","s":562.8,"e":564.6,"o":6},{"r":"csobj","s":564.6,"e":565.15,"o":15},{"r":"csobj","s":565.15,"e":566.45,"o":12},{"r":"csobj","s":566.45,"e":567.3,"o":6},{"r":"csobj","s":567.3,"e":568.8,"o":12},{"r":"csobj","s":568.8,"e":570.5,"o":6},{"r":"csobj","s":570.5,"e":571.1,"o":15},{"r":"csobj","s":571.1,"e":574.6,"o":6},{"r":"csobj","s":574.6,"e":575.7,"o":12},{"r":"csobj","s":575.7,"e":578.6,"o":5},{"r":"csobj","s":578.6,"e":579.75,"o":5},{"r":"csobj","s":579.75,"e":580.3,"o":4},{"r":"csobj","s":580.3,"e":581.55,"o":5},{"r":"csobj","s":581.55,"e":585.05,"o":7},{"r":"csobj","s":585.05,"e":588.8,"o":7},{"r":"csobj","s":588.8,"e":589.2,"o":9},{"r":"csobj","s":589.2,"e":592.75,"o":7},{"r":"csobj","s":592.75,"e":597.8,"o":21},{"r":"csobj","s":597.8,"e":598.4,"o":21},{"r":"csobj","s":598.4,"e":600,"o":7},
{"r":"d_left_inhand","s":424.6,"e":425.2,"o":6},{"r":"d_left_inhand","s":425.6,"e":426.0,"o":6},{"r":"d_left_inhand","s":427.2,"e":440.8,"o":6},{"r":"d_left_inhand","s":450.65,"e":451.3,"o":6},{"r":"d_left_inhand","s":472.5,"e":473.2,"o":6},{"r":"d_left_inhand","s":473.2,"e":475.3,"o":5},{"r":"d_left_inhand","s":476.0,"e":479.3,"o":6},{"r":"d_left_inhand","s":496.2,"e":500.9,"o":6},{"r":"d_left_inhand","s":502.9,"e":503.6,"o":5},{"r":"d_left_inhand","s":509.2,"e":511.1,"o":5},{"r":"d_left_inhand","s":511.1,"e":519.1,"o":5},{"r":"d_left_inhand","s":519.6,"e":520.3,"o":5},{"r":"d_left_inhand","s":520.55,"e":522.1,"o":5},{"r":"d_left_inhand","s":522.6,"e":531.75,"o":5},{"r":"d_left_inhand","s":532.0,"e":539.8,"o":5},{"r":"d_left_inhand","s":539.8,"e":569.7,"o":5},{"r":"d_left_inhand","s":582.7,"e":583.15,"o":11},{"r":"d_left_inhand","s":585.35,"e":587.7,"o":7},{"r":"d_left_inhand","s":588.2,"e":600,"o":7}
]},
"vconcat":[
{"width":1178,"height":151,"data":{"name":"segs"},
 "title":{"text":"1203","fontSize":11,"fontWeight":"bold","font":"Liberation Sans","color":"black","offset":4},
 "transform":[{"filter":"datum.s < 200"}],
 "mark":{"type":"rect","stroke":"black","strokeWidth":0.8},
 "encoding":{
  "x":{"field":"s","type":"quantitative","scale":{"domain":[0,200],"nice":false,"zero":false},"axis":{"title":null,"values":[0,20,40,60,80,100,120,140,160,180,200]}},
  "x2":{"field":"e"},
  "y":{"field":"r","type":"nominal","sort":["cseye","csobj","d_left_inhand"],"scale":{"domain":["cseye","csobj","d_left_inhand"],"paddingInner":0.04,"paddingOuter":0.02},"axis":{"title":null}},
  "color":{"field":"o","type":"nominal","legend":null,"scale":{"domain":[1,2,3,4,5,6,7,8,9,10,11,12,13,14,15,16,17,18,19,20,21,22,23,24],"range":["#00838C","#FFD400","#A0C4FF","#A0524A","#857300","#000080","#FF0000","#00FF00","#7E1A68","#8FA77A","#A00000","#FA1464","#70F8FF","#71627A","#96D651","#FF00FF","#D414FF","#8585FF","#0000FF","#F7830A","#F5A0DA","#000000","#FFAA77","#00FF99"]}}
 }},
{"width":1178,"height":151,"data":{"name":"segs"},
 "transform":[{"filter":"datum.s >= 200 && datum.s < 400"}],
 "mark":{"type":"rect","stroke":"black","strokeWidth":0.8},
 "encoding":{
  "x":{"field":"s","type":"quantitative","scale":{"domain":[200,400],"nice":false,"zero":false},"axis":{"title":null,"values":[200,220,240,260,280,300,320,340,360,380,400]}},
  "x2":{"field":"e"},
  "y":{"field":"r","type":"nominal","sort":["cseye","csobj","d_left_inhand"],"scale":{"domain":["cseye","csobj","d_left_inhand"],"paddingInner":0.04,"paddingOuter":0.02},"axis":{"title":null}},
  "color":{"field":"o","type":"nominal","legend":null,"scale":{"domain":[1,2,3,4,5,6,7,8,9,10,11,12,13,14,15,16,17,18,19,20,21,22,23,24],"range":["#00838C","#FFD400","#A0C4FF","#A0524A","#857300","#000080","#FF0000","#00FF00","#7E1A68","#8FA77A","#A00000","#FA1464","#70F8FF","#71627A","#96D651","#FF00FF","#D414FF","#8585FF","#0000FF","#F7830A","#F5A0DA","#000000","#FFAA77","#00FF99"]}}
 }},
{"width":1178,"height":151,"data":{"name":"segs"},
 "transform":[{"filter":"datum.s >= 400"}],
 "mark":{"type":"rect","stroke":"black","strokeWidth":0.8},
 "encoding":{
  "x":{"field":"s","type":"quantitative","scale":{"domain":[400,600],"nice":false,"zero":false},"axis":{"title":null,"values":[400,420,440,460,480,500,520,540,560,580,600]}},
  "x2":{"field":"e"},
  "y":{"field":"r","type":"nominal","sort":["cseye","csobj","d_left_inhand"],"scale":{"domain":["cseye","csobj","d_left_inhand"],"paddingInner":0.04,"paddingOuter":0.02},"axis":{"title":null}},
  "color":{"field":"o","type":"nominal","legend":null,"scale":{"domain":[1,2,3,4,5,6,7,8,9,10,11,12,13,14,15,16,17,18,19,20,21,22,23,24],"range":["#00838C","#FFD400","#A0C4FF","#A0524A","#857300","#000080","#FF0000","#00FF00","#7E1A68","#8FA77A","#A00000","#FA1464","#70F8FF","#71627A","#96D651","#FF00FF","#D414FF","#8585FF","#0000FF","#F7830A","#F5A0DA","#000000","#FFAA77","#00FF99"]}}
 }}
],
"resolve":{"scale":{"x":"independent"}},
"spacing":7,
"config":{
 "view":{"fill":"white","stroke":null},
 "axis":{"domainColor":"#262626","domainWidth":1,"labelColor":"#262626","labelFont":"Liberation Sans","labelFontSize":10,"ticks":false,"grid":false},
 "axisX":{"labelPadding":5,"labelFlush":false},
 "axisY":{"labelPadding":3}
}
}
